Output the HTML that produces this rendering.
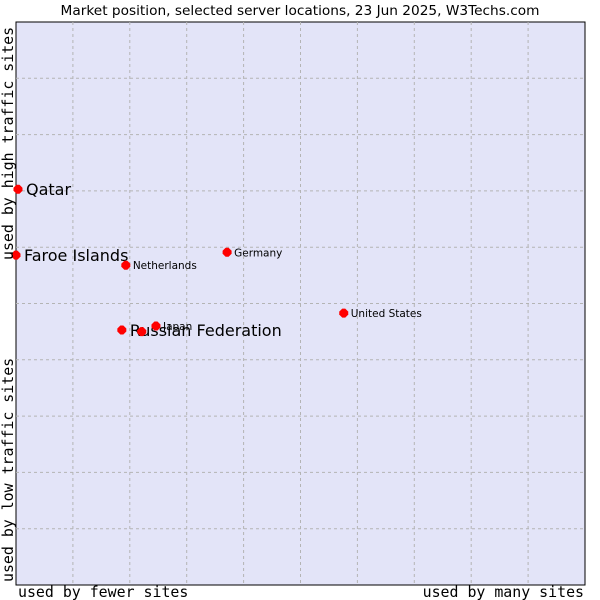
<!DOCTYPE html>
<html><head><meta charset="utf-8"><style>
body{margin:0;background:#fff;width:600px;height:600px;overflow:hidden}
svg{display:block}
</style></head><body>
<svg id="chart" width="600" height="600">
<text x="300" y="15" text-anchor="middle" font-family="DejaVu Sans, sans-serif" font-size="13.7" fill="#000">Market position, selected server locations, 23 Jun 2025, W3Techs.com</text>
<rect x="16" y="22" width="569" height="563" fill="#e3e4f8" stroke="#000" stroke-width="1"/>
<g id="grid"></g>
<g id="points"></g>
<text x="18" y="597" font-family="DejaVu Sans Mono, monospace" font-size="14.9">used by fewer sites</text>
<text x="584" y="597" text-anchor="end" font-family="DejaVu Sans Mono, monospace" font-size="14.9">used by many sites</text>
<text transform="translate(13,582) rotate(-90)" font-family="DejaVu Sans Mono, monospace" font-size="14.9">used by low traffic sites</text>
<text transform="translate(13,260) rotate(-90)" font-family="DejaVu Sans Mono, monospace" font-size="14.9">used by high traffic sites</text>
</svg>
<script>
const countries=["Qatar","Faroe Islands","Netherlands","Germany","United States","Russian Federation","Japan",""];
const xValues=[0.35,0,19.3,37.1,57.6,18.6,24.6,22.1];
const yValues=[70.3,58.6,56.8,59.1,48.3,45.3,46.0,45.0];
const bigLabel=[true,true,false,false,false,true,false,false];
const L=16,T=22,W=569,H=563;
const xs=v=>L+v/100*W, ys=v=>T+H-v/100*H;
const NS="http://www.w3.org/2000/svg";
const grid=document.getElementById('grid');
for(let i=1;i<10;i++){
 const v=document.createElementNS(NS,'line');
 v.setAttribute('x1',xs(i*10));v.setAttribute('x2',xs(i*10));v.setAttribute('y1',T);v.setAttribute('y2',T+H);
 v.setAttribute('stroke','#b4b4b4');v.setAttribute('stroke-dasharray','3,3');
 
 
 grid.appendChild(v);
 const h=document.createElementNS(NS,'line');
 h.setAttribute('y1',ys(i*10));h.setAttribute('y2',ys(i*10));h.setAttribute('x1',L);h.setAttribute('x2',L+W);
 h.setAttribute('stroke','#b4b4b4');h.setAttribute('stroke-dasharray','3,3');
 
 
 grid.appendChild(h);
}
const pts=document.getElementById('points');
countries.forEach((c,i)=>{
 const x=xs(xValues[i]),y=ys(yValues[i]);
 const p=document.createElementNS(NS,'polygon');
 p.setAttribute('points',`${x-4.5},${y-1.5} ${x-1.5},${y-4.5} ${x+1.5},${y-4.5} ${x+4.5},${y-1.5} ${x+4.5},${y+1.5} ${x+1.5},${y+4.5} ${x-1.5},${y+4.5} ${x-4.5},${y+1.5}`);
 p.setAttribute('fill','#ff0000');
 
 
 pts.appendChild(p);
 if(c){
  const t=document.createElementNS(NS,'text');
  t.setAttribute('x',x+(bigLabel[i]?8:7));t.setAttribute('y',y+(bigLabel[i]?6:4));
  t.setAttribute('font-family','DejaVu Sans, sans-serif');
  t.setAttribute('font-size',bigLabel[i]?16:10.5);
  t.textContent=c;
  
  
  pts.appendChild(t);
 }
});
</script>
</body></html>
